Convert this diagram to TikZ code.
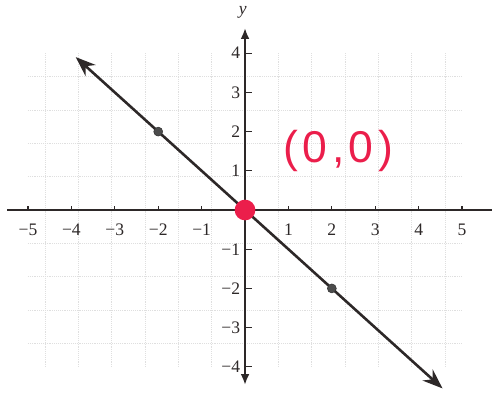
\documentclass[tikz,border=0pt]{standalone}
\usepackage{fontspec}
\setmainfont{Liberation Serif}
\newfontfamily\handfont[LetterSpace=10]{Liberation Sans}
\usetikzlibrary{arrows.meta}
\definecolor{inkred}{RGB}{235,30,75}
\definecolor{axisgray}{RGB}{45,40,40}
\begin{document}
\begin{tikzpicture}[x=1.302cm, y=1.176cm,
  axis/.style={line width=1.6pt, axisgray},
  gridln/.style={gray!25, densely dotted, line width=0.6pt},
  tk/.style={line width=1.1pt, axisgray},
  lbl/.style={font=\fontsize{15}{18}\selectfont, text=axisgray, inner sep=1pt},
  dot/.style={circle, fill=gray!60!black, draw=gray!35!black,
              inner sep=0pt, minimum size=0.27cm},
  origin/.style={circle, fill=inkred, inner sep=0pt, minimum size=0.62cm},
  graph/.style={line width=2.2pt, axisgray,
                {Stealth[length=0.6cm, width=0.45cm]}-{Stealth[length=0.6cm, width=0.45cm]}},
]
\useasboundingbox (-5.645,-4.643) rectangle (5.69,5.357);

% ---- grid -------------------------------------------------------------------
\draw[gridln] (-5,-4) grid (5,4);

% ---- axes -------------------------------------------------------------------
\coordinate (xl) at (-5.48,0);
\coordinate (xr) at (5.69,0);
\coordinate (yb) at (0,-4.46);
\coordinate (yt) at (0,4.64);
\draw[axis] (xl) -- (xr);
\draw[axis, {Latex[length=0.32cm, width=0.26cm]}-{Latex[length=0.32cm, width=0.26cm]}] (yb) -- (yt);
\node[font=\fontsize{15}{18}\selectfont\itshape, text=axisgray] (ylab) at (-0.05,5.05) {y};

% ---- ticks and numbers ------------------------------------------------------
\foreach \x in {-5,...,-1,1,2,...,5} {
  \draw[tk] (\x,0) -- (\x,0.1);
  \node[lbl] (xn\x) at (\x,-0.51) {\ifnum\x<0 −\the\numexpr-\x\relax\else\x\fi};
}
\foreach \y in {-4,...,-1,1,2,...,4} {
  \draw[tk] (0,\y) -- (0.15,\y);
  \node[lbl, anchor=east] (yn\y) at (-0.08,\y) {\ifnum\y<0 −\the\numexpr-\y\relax\else\y\fi};
}

% ---- the line y = -x --------------------------------------------------------
\coordinate (lend) at (-3.9,3.9);
\coordinate (rend) at (4.55,-4.55);
\draw[graph] (lend) -- (rend);
\node[dot] (pa) at (-2,2) {};
\node[dot] (pb) at (2,-2) {};
\node[origin] (o) at (0,0) {};

% ---- handwritten label ------------------------------------------------------
\node[font=\handfont\fontsize{38}{40}\selectfont, text=inkred] (olab) at (2.15,1.5) {(0,0)};

\end{tikzpicture}
\end{document}
